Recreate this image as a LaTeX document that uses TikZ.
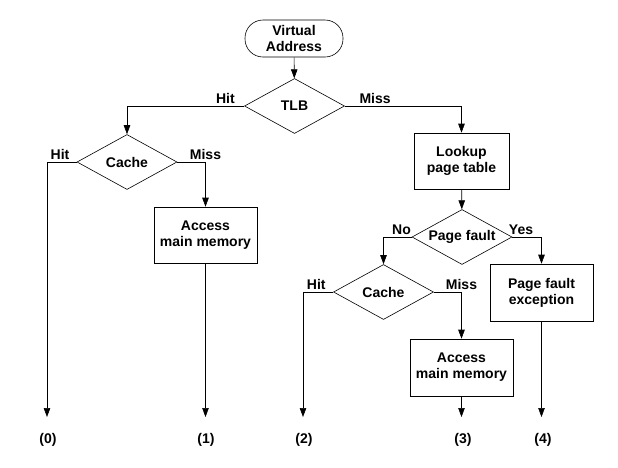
\documentclass[tikz,border=0pt]{standalone}
\usepackage{fontspec}
\setmainfont{Liberation Sans}
\usetikzlibrary{shapes.geometric,arrows.meta}
\newcommand{\flowfont}{\fontsize{14}{16}\selectfont\bfseries}

\begin{document}
\begin{tikzpicture}[x=1pt,y=1pt,
    term/.style={rectangle,draw,rounded corners=18pt,minimum width=98pt,minimum height=37pt,align=center,font=\flowfont,line width=0.6pt},
    box/.style={rectangle,draw,minimum width=103pt,minimum height=56pt,align=center,font=\flowfont,line width=0.6pt},
    dec/.style={diamond,draw,aspect=1.8,inner sep=0pt,minimum width=100pt,minimum height=55pt,font=\flowfont,line width=0.6pt},
    lbl/.style={font=\flowfont,anchor=base,yshift=3pt,inner sep=0pt},
    arr/.style={-{Triangle[length=9pt,width=6.5pt]},line width=0.6pt},
]
\useasboundingbox (0,0) rectangle (618,-467);

\node[term] (va) at (294,-38.5) {Virtual\\Address};
\node[dec] (tlb) at (294.5,-106) {TLB};
\node[dec] (c1) at (127,-162) {Cache};
\node[box] (acc1) at (205.5,-235) {Access\\main memory};
\node[box,minimum width=95pt] (lkp) at (461.5,-161) {Lookup\\page table};
\node[dec] (pf) at (462,-237) {Page fault};
\node[dec] (c2) at (383.5,-292) {Cache};
\node[box,minimum height=57pt] (acc2) at (461.5,-367.5) {Access\\main memory};
\node[box,minimum height=57pt] (pfe) at (541.5,-292.5) {Page fault\\exception};

\coordinate (e0) at (47,-417);
\coordinate (e1) at (205.5,-417);
\coordinate (e2) at (303,-417);
\coordinate (e3) at (461.5,-417);
\coordinate (e4) at (541.5,-417);

\node[font=\flowfont] (o0) at (48,-440) {(0)};
\node[font=\flowfont] (o1) at (206,-440) {(1)};
\node[font=\flowfont] (o2) at (304,-440) {(2)};
\node[font=\flowfont] (o3) at (463,-440) {(3)};
\node[font=\flowfont] (o4) at (543,-440) {(4)};

\draw[arr] (va) -- (tlb);
\draw[arr] (tlb.west) -| node[lbl,pos=0.08] {Hit} (c1.north);
\draw[arr] (tlb.east) -| node[lbl,pos=0.13] {Miss} (lkp.north);
\draw[arr] (c1.west) -| node[lbl,pos=0.28] {Hit} (e0);
\draw[arr] (c1.east) -| node[lbl,pos=0.5] {Miss} (acc1.north);
\draw[arr] (acc1) -- (e1);
\draw[arr] (lkp) -- (pf);
\draw[arr] (pf.west) -| node[lbl,pos=0.18] {No} (c2.north);
\draw[arr] (pf.east) -| node[lbl,pos=0.15] {Yes} (pfe.north);
\draw[arr] (c2.west) -| node[lbl,pos=0.28] {Hit} (e2);
\draw[arr] (c2.east) -| node[lbl,pos=0.5] {Miss} (acc2.north);
\draw[arr] (acc2) -- (e3);
\draw[arr] (pfe) -- (e4);
\end{tikzpicture}
\end{document}
